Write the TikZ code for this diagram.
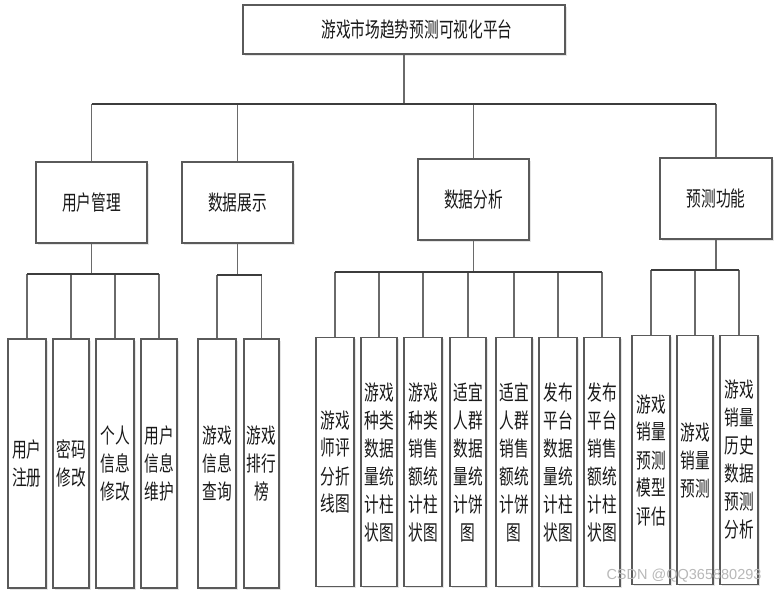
\documentclass[tikz,border=0pt]{standalone}
\usepackage{fontspec}
\newfontfamily\cjk[FakeStretch=0.7]{Noto Sans CJK SC}
\newfontfamily\wmfont{Liberation Sans}
\usetikzlibrary{shadows}
\definecolor{edgec}{HTML}{5A5A5A}
\definecolor{connc}{HTML}{6A6A6A}
\definecolor{barc}{HTML}{3C3C3C}
\begin{document}
\begin{tikzpicture}[x=1pt,y=-1pt,
  box/.style={draw=edgec, line width=1.2pt, fill=white, inner sep=0pt,
    drop shadow={shadow xshift=1.5pt, shadow yshift=-1.5pt, fill=black!10, opacity=1},
    font=\cjk\fontsize{21}{28}\selectfont, align=center, text=black!90},
  midbox/.style={box, minimum width=111pt, minimum height=81pt},
  leaf/.style={box, minimum height=249pt},
  conn/.style={draw=connc, line width=1.3pt},
  barline/.style={draw=barc, line width=1.8pt}]
\useasboundingbox (0,0) rectangle (774,590);
\fill[white] (0,0) rectangle (774,590);

% top
\node[box, minimum width=322pt, minimum height=49pt] (top) at (404,29.5) {\hspace*{26pt}游戏市场趋势预测可视化平台};

% level 2
\node[midbox] (um) at (91.5,202.5) {用户管理};
\node[midbox] (ds) at (237.5,202.5) {数据展示};
\node[midbox] (da) at (473.5,199.5) {数据分析};
\node[midbox, minimum width=112pt] (yc) at (716,198.5) {预测功能};

% leaves group 1
\node[leaf, minimum width=38pt] (a1) at (27,463.5) {用户\\注册};
\node[leaf, minimum width=36pt] (a2) at (71,463.5) {密码\\修改};
\node[leaf, minimum width=38pt] (a3) at (115,463.5) {个人\\信息\\修改};
\node[leaf, minimum width=36pt] (a4) at (159,463.5) {用户\\信息\\维护};
% group 2
\node[leaf, minimum width=38pt] (b1) at (217,463.5) {游戏\\信息\\查询};
\node[leaf, minimum width=35pt] (b2) at (261.5,463.5) {游戏\\排行\\榜};
% group 3
\node[leaf, minimum width=38pt] (c1) at (335,462) {游戏\\师评\\分折\\线图};
\node[leaf, minimum width=36pt] (c2) at (379,462) {游戏\\种类\\数据\\量统\\计柱\\状图};
\node[leaf, minimum width=38pt] (c3) at (423,462) {游戏\\种类\\销售\\额统\\计柱\\状图};
\node[leaf, minimum width=36pt] (c4) at (468,462) {适宜\\人群\\数据\\量统\\计饼\\图};
\node[leaf, minimum width=36pt] (c5) at (514,462) {适宜\\人群\\销售\\额统\\计饼\\图};
\node[leaf, minimum width=38pt] (c6) at (558,462) {发布\\平台\\数据\\量统\\计柱\\状图};
\node[leaf, minimum width=36pt] (c7) at (602,462) {发布\\平台\\销售\\额统\\计柱\\状图};
% group 4
\node[leaf, minimum width=38pt] (d1) at (651,460) {游戏\\销量\\预测\\模型\\评估};
\node[leaf, minimum width=36pt] (d2) at (695,460) {游戏\\销量\\预测};
\node[leaf, minimum width=38pt] (d3) at (739,460) {游戏\\销量\\历史\\数据\\预测\\分析};

% bar coordinates
\coordinate (y0) at (0,104);
\coordinate (y1) at (0,274);
\coordinate (y2) at (0,275);
\coordinate (y3) at (0,272);
\coordinate (y4) at (0,270);

% top level connectors
\draw[conn] (top.south) -- (top.south |- y0);
\foreach \n in {um,ds,da,yc} \draw[conn] (\n.north) -- (\n.north |- y0);
\draw[barline] (um.north |- y0) -- (yc.north |- y0);

% group 1
\draw[conn] (um.south) -- (um.south |- y1);
\foreach \n in {a1,a2,a3,a4} \draw[conn] (\n.north) -- (\n.north |- y1);
\draw[barline] (a1.north |- y1) -- (a4.north |- y1);
% group 2
\draw[conn] (ds.south) -- (ds.south |- y2);
\foreach \n in {b1,b2} \draw[conn] (\n.north) -- (\n.north |- y2);
\draw[barline] (b1.north |- y2) -- (b2.north |- y2);
% group 3
\draw[conn] (da.south) -- (da.south |- y3);
\foreach \n in {c1,c2,c3,c4,c5,c6,c7} \draw[conn] (\n.north) -- (\n.north |- y3);
\draw[barline] (c1.north |- y3) -- (c7.north |- y3);
% group 4
\draw[conn] (yc.south) -- (yc.south |- y4);
\foreach \n in {d1,d2,d3} \draw[conn] (\n.north) -- (\n.north |- y4);
\draw[barline] (d1.north |- y4) -- (d3.north |- y4);

% watermark
\node[text=black!28, font=\wmfont\fontsize{14.5}{15}\selectfont, inner sep=0pt] (wm) at (684,576) {CSDN @QQ365880293};
\end{tikzpicture}
\end{document}
